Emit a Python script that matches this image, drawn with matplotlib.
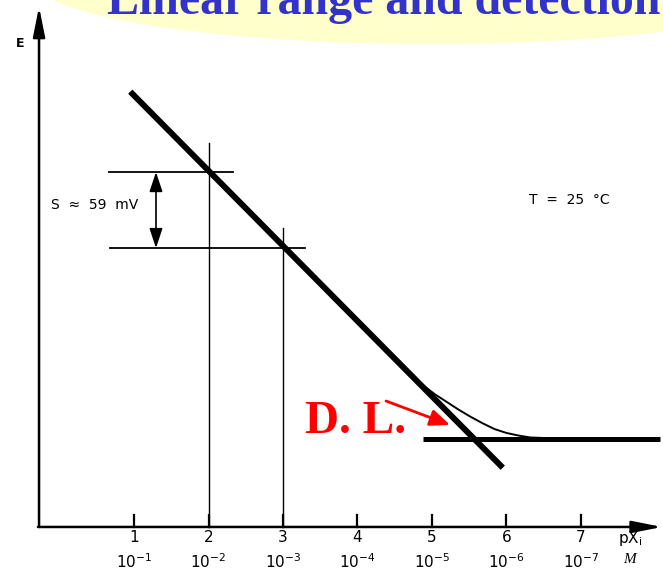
import matplotlib
matplotlib.use("Agg")
import matplotlib.pyplot as plt
from matplotlib.patches import Ellipse

# ---- data ----
px_ticks = [1, 2, 3, 4, 5, 6, 7]
conc_labels = ['10$^{-1}$', '10$^{-2}$', '10$^{-3}$', '10$^{-4}$',
               '10$^{-5}$', '10$^{-6}$', '10$^{-7}$']
# Nernstian straight line (thick)
linear_p = [0.95, 5.95]
linear_E = [338, 46]
# detection-limit plateau (thick)
plateau_p = [4.88, 8.06]
plateau_E = [68.5, 68.5]
# real response curve (thin)
curve_p = [0.95, 4.55, 4.72, 4.88, 5.04, 5.20, 5.36, 5.52, 5.68, 5.84,
           6.00, 6.16, 6.32, 6.72, 7.2]
curve_E = [337, 128, 118.5, 110, 103, 97, 91, 85.5, 80.5, 76,
           73, 71, 69.5, 68.6, 68.5]
# slope markers at pX = 2 and 3
marker_p = [2, 3]
marker_E = [275.6, 216.6]
marker_top = [298, 232]
slope_text = "S  ≈  59  mV"
temp_text = "T  =  25  °C"

fig = plt.figure(figsize=(6.63, 5.75), dpi=100)
ax = fig.add_axes([0, 0, 1, 1])
ax.set_xlim(-0.799, 8.101)
ax.set_ylim(-37.3, 409.2)
ax.axis('off')

# title banner
ax.add_patch(Ellipse((4.97, 426.2), 10.74, 102.5, facecolor='#FFFFCC',
                     edgecolor='none', zorder=0))
ax.text(0.638, 398.5, "Linear range and detection", ha='left', va='baseline',
        fontsize=34.5, fontweight='bold', family='Liberation Serif',
        color='#3333CC', zorder=1)

# axes with arrows
ax.annotate('', xy=(-0.275, 404), xytext=(-0.275, 0),
            arrowprops=dict(arrowstyle='-|>,head_length=1.8,head_width=0.36',
                            mutation_scale=10, lw=1.8, color='black',
                            shrinkA=0, shrinkB=0))
ax.annotate('', xy=(8.087, 0), xytext=(-0.29, 0),
            arrowprops=dict(arrowstyle='-|>,head_length=1.8,head_width=0.36',
                            mutation_scale=10, lw=1.8, color='black',
                            shrinkA=0, shrinkB=0))
for p in px_ticks:
    ax.plot([p, p], [0, 9], color='black', lw=1.6)
    ax.text(p, -8, str(p), ha='center', va='center', fontsize=11)
for p, lab in zip(px_ticks, conc_labels):
    ax.text(p, -27, lab, ha='center', va='center', fontsize=11)
ax.text(7.50, -9, 'pX$_\\mathregular{i}$', ha='left', va='center', fontsize=11)
ax.text(7.57, -25.6, 'M', ha='left', va='center', fontsize=11,
        family='Liberation Serif', style='italic')
ax.text(-0.53, 375.8, 'E', ha='center', va='center', fontsize=9,
        fontweight='bold')

# slope marker lines
ax.plot([marker_p[0], marker_p[0]], [0, marker_top[0]], color='black', lw=1.0)
ax.plot([marker_p[1], marker_p[1]], [0, marker_top[1]], color='black', lw=1.0)
ax.plot([0.664, 2.329], [marker_E[0], marker_E[0]], color='black', lw=1.3)
ax.plot([0.678, 3.295], [marker_E[1], marker_E[1]], color='black', lw=1.3)
ax.annotate('', xy=(1.295, marker_E[1]), xytext=(1.295, marker_E[0]),
            arrowprops=dict(arrowstyle='<|-|>,head_length=1.2,head_width=0.4',
                            mutation_scale=10, lw=1.2, color='black',
                            shrinkA=0, shrinkB=0))
ax.text(0.477, 250, slope_text, ha='center', va='center', fontsize=10)
ax.text(6.85, 254, temp_text, ha='center', va='center', fontsize=10)

# curves
ax.plot(curve_p, curve_E, color='black', lw=1.4, solid_capstyle='round',
        solid_joinstyle='round')
ax.plot(linear_p, linear_E, color='black', lw=4.3, solid_capstyle='butt')
ax.plot(plateau_p, plateau_E, color='black', lw=3.6, solid_capstyle='butt')

# detection limit annotation
ax.text(3.295, 73.0, 'D. L.', ha='left', va='baseline', fontsize=34,
        fontweight='bold', family='Liberation Serif', color='red')
ax.annotate('', xy=(5.242, 79.2), xytext=(4.383, 97.8),
            arrowprops=dict(arrowstyle='-|>,head_length=0.6,head_width=0.25',
                            mutation_scale=20, lw=2, color='red',
                            shrinkA=0, shrinkB=0))

fig.savefig('out.png', dpi=100)
